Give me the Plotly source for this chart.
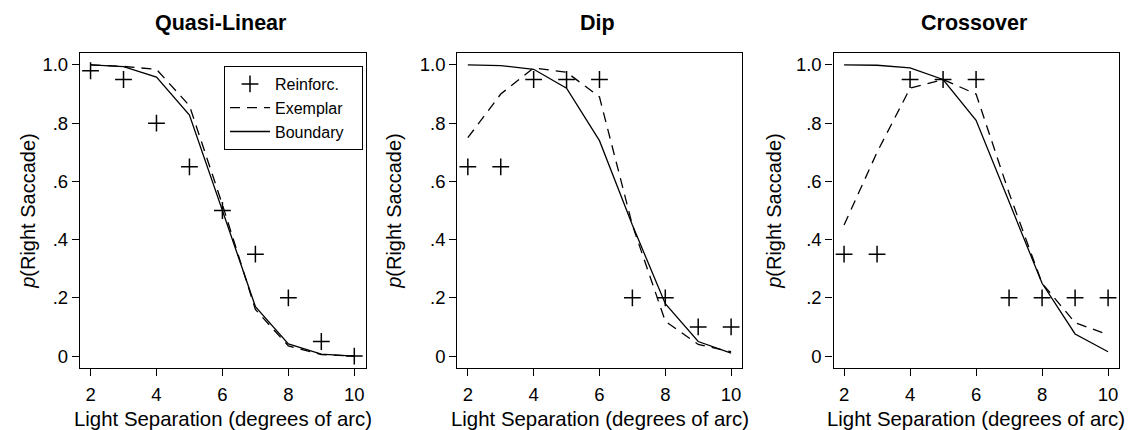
import plotly.graph_objects as go

W, H = 1136, 430

# ---------------- data ----------------
x_sep = [2, 3, 4, 5, 6, 7, 8, 9, 10]

panel_titles = ["Quasi-Linear", "Dip", "Crossover"]

ql_reinf = [0.98, 0.95, 0.80, 0.65, 0.50, 0.35, 0.20, 0.05, 0.00]
ql_exemplar = [1.00, 0.995, 0.985, 0.86, 0.52, 0.16, 0.035, 0.005, 0.0]
ql_boundary = [1.00, 0.994, 0.958, 0.828, 0.50, 0.17, 0.042, 0.007, 0.0]

dip_reinf = [0.65, 0.65, 0.95, 0.95, 0.95, 0.20, 0.20, 0.10, 0.10]
dip_exemplar = [0.75, 0.90, 0.99, 0.975, 0.89, 0.45, 0.12, 0.04, 0.015]
dip_boundary = [1.00, 0.998, 0.985, 0.92, 0.74, 0.45, 0.18, 0.05, 0.01]

cross_reinf = [0.35, 0.35, 0.95, 0.95, 0.95, 0.20, 0.20, 0.20, 0.20]
cross_exemplar = [0.45, 0.70, 0.92, 0.95, 0.90, 0.56, 0.25, 0.115, 0.073]
cross_boundary = [1.00, 0.999, 0.99, 0.95, 0.81, 0.53, 0.25, 0.076, 0.015]

x_tickvals = [2, 4, 6, 8, 10]
x_ticktext = ["2", "4", "6", "8", "10"]
y_tickvals = [0, 0.2, 0.4, 0.6, 0.8, 1.0]
y_ticktext = ["0", ".2", ".4", ".6", ".8", "1.0"]

series_names = ["Reinforc.", "Exemplar", "Boundary"]
x_title = "Light Separation (degrees of arc)"
y_title = "<i>p</i>(Right Saccade)"

panels = [
    (ql_reinf, ql_exemplar, ql_boundary),
    (dip_reinf, dip_exemplar, dip_boundary),
    (cross_reinf, cross_exemplar, cross_boundary),
]

# ---------------- layout geometry (pixels) ----------------
box_left = [80, 457.3, 833.5]
box_right = [365.5, 742.3, 1119.3]
box_top, box_bottom = 53.3, 368.3
ytitle_x = [28, 394, 774]

FONT = "Liberation Sans, Arial, Helvetica, sans-serif"
PAD = "\u00a0\u00a0\u00a0"

fig = go.Figure()

for i, (reinf, exem, bound) in enumerate(panels):
    xa = "x" if i == 0 else f"x{i+1}"
    ya = "y" if i == 0 else f"y{i+1}"
    show = i == 0
    fig.add_trace(go.Scatter(
        x=x_sep, y=reinf, mode="markers", name=series_names[0] + PAD,
        marker=dict(symbol="cross-thin", size=12, color="black",
                    line=dict(color="black", width=1.5)),
        xaxis=xa, yaxis=ya, showlegend=show))
    fig.add_trace(go.Scatter(
        x=x_sep, y=exem, mode="lines", name=series_names[1] + PAD,
        line=dict(color="black", width=1.3, dash="10px,7px"),
        xaxis=xa, yaxis=ya, showlegend=show))
    fig.add_trace(go.Scatter(
        x=x_sep, y=bound, mode="lines", name=series_names[2] + PAD,
        line=dict(color="black", width=1.3),
        xaxis=xa, yaxis=ya, showlegend=show))

axis_common = dict(
    showline=True, linecolor="black", linewidth=1.3, mirror=True,
    showgrid=False, zeroline=False, ticks="outside", ticklen=7,
    tickwidth=1.2, tickcolor="black",
    tickfont=dict(family=FONT, size=18.5, color="black"),
)

layout = dict(
    width=W, height=H,
    margin=dict(l=0, r=0, t=0, b=0),
    paper_bgcolor="white", plot_bgcolor="white",
    font=dict(family=FONT, color="black"),
    legend=dict(
        x=363 / W, y=1 - 66 / H, xanchor="right", yanchor="top",
        bordercolor="black", borderwidth=1, bgcolor="white",
        font=dict(family=FONT, size=16, color="black"),
        itemwidth=40, tracegroupgap=0,
    ),
)

annotations = []
yd = [1 - box_bottom / H, 1 - box_top / H]
for i in range(3):
    sfx = "" if i == 0 else str(i + 1)
    layout["xaxis" + sfx] = dict(
        axis_common, domain=[box_left[i] / W, box_right[i] / W],
        range=[1.68, 10.34], tickvals=x_tickvals, ticktext=x_ticktext,
        ticklabelstandoff=2, anchor="y" + sfx)
    layout["yaxis" + sfx] = dict(
        axis_common, domain=yd, range=[-0.042, 1.040],
        tickvals=y_tickvals, ticktext=y_ticktext, anchor="x" + sfx)
    cx = (box_left[i] + box_right[i]) / 2 / W
    annotations.append(dict(
        text="<b>" + panel_titles[i] + "</b>", x=cx - 2 / W, y=1 - 23 / H,
        xref="paper", yref="paper", xanchor="center", yanchor="middle",
        showarrow=False, font=dict(family=FONT, size=21.5, color="black")))
    annotations.append(dict(
        text=x_title, x=cx, y=1 - 419 / H,
        xref="paper", yref="paper", xanchor="center", yanchor="middle",
        showarrow=False, font=dict(family=FONT, size=20.4, color="black")))
    annotations.append(dict(
        text=y_title, x=ytitle_x[i] / W, y=1 - (box_top + box_bottom) / 2 / H,
        xref="paper", yref="paper", xanchor="center", yanchor="middle",
        textangle=-90, showarrow=False,
        font=dict(family=FONT, size=20, color="black")))

layout["annotations"] = annotations
fig.update_layout(**layout)

fig.write_html(
    "out.html",
    config={"displayModeBar": False},
    post_script="document.body.style.margin='0';document.body.style.overflow='hidden';",
)
